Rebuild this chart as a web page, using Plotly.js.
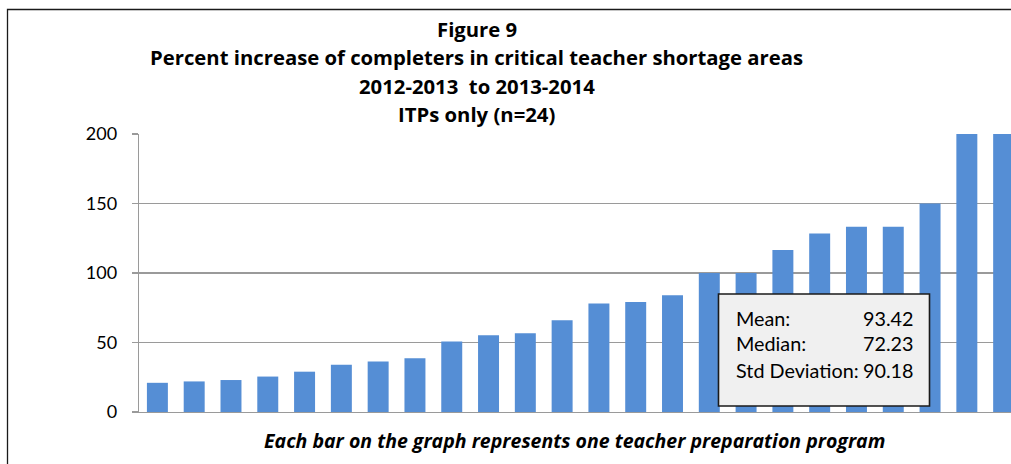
<!DOCTYPE html>
<html>
<head>
<meta charset="utf-8">
<script src="https://cdn.plot.ly/plotly-3.0.1.min.js"></script>
<style>html,body{margin:0;padding:0;background:#fff;}#chart{width:1011px;height:464px;}</style>
</head>
<body>
<div id="chart"></div>
<script>
// ---- data ----
const programs = ['1','2','3','4','5','6','7','8','9','10','11','12','13','14','15','16','17','18','19','20','21','22','23','24'];
const pctIncrease = [21, 22, 23, 25.5, 29, 34, 36.3, 38.7, 50.7, 55.2, 56.7, 66, 78.1, 79.2, 84, 100, 100, 116.5, 128.5, 133.3, 133.3, 150, 248, 433];
const titleLines = ['Figure 9', 'Percent increase of completers in critical teacher shortage areas', '2012-2013  to 2013-2014', 'ITPs only (n=24)'];
const statLabels = ['Mean:', 'Median:', 'Std Deviation:'];
const statValues = ['93.42', '72.23', '90.18'];
const yTicks = [0, 50, 100, 150, 200];
const caption = 'Each bar on the graph represents one teacher preparation program';

// ---- layout helpers (pixel -> paper) ----
const L = 139, R = 1011, T = 134, B = 412;
const px = x => (x - L) / (R - L);
const py = y => (B - y) / (B - T);

const annotations = [];
const titleY = [29, 57, 85.5, 114];
titleLines.forEach((t, i) => annotations.push({
  xref: 'paper', yref: 'paper', x: px(476.5), y: py(titleY[i]), xanchor: 'center', yanchor: 'middle',
  text: '<b>' + t + '</b>', showarrow: false, font: {family: 'Open Sans', size: 20.3, color: '#000'}
}));
const statY = [318, 343, 370];
statLabels.forEach((t, i) => {
  annotations.push({xref: 'paper', yref: 'paper', x: px(734), y: py(statY[i]), xanchor: 'left', yanchor: 'middle',
    text: t, showarrow: false, font: {family: 'Lato', size: 19.8, color: '#000'}});
  annotations.push({xref: 'paper', yref: 'paper', x: px(916), y: py(statY[i]), xanchor: 'right', yanchor: 'middle',
    text: statValues[i], showarrow: false, font: {family: 'Lato', size: 19.8, color: '#000'}});
});
annotations.push({xref: 'paper', yref: 'paper', x: px(574.5), y: py(440), xanchor: 'center', yanchor: 'middle',
  text: '<b><i>' + caption + '</i></b>', showarrow: false, font: {family: 'Open Sans', size: 19.5, color: '#000'}});

const shapes = [
  {type: 'rect', xref: 'paper', yref: 'paper', x0: px(7.5), x1: px(1030), y0: py(480), y1: py(9.5),
   line: {color: '#1a1a1a', width: 1.3}, fillcolor: 'rgba(0,0,0,0)', layer: 'above'},
  {type: 'rect', xref: 'paper', yref: 'paper', x0: px(718.5), x1: px(929.5), y0: py(406), y1: py(294),
   line: {color: '#1a1a1a', width: 1.6}, fillcolor: '#f0f0f0', layer: 'above'}
];

const data = [{
  type: 'bar', x: programs, y: pctIncrease,
  marker: {color: '#558ED5', line: {width: 0}},
  hoverinfo: 'skip'
}];

const layout = {
  width: 1011, height: 464,
  margin: {l: L, r: 1011 - R, t: T, b: 464 - B, pad: 0},
  paper_bgcolor: '#fff', plot_bgcolor: '#fff',
  showlegend: false,
  bargap: 0.43,
  xaxis: {type: 'category', range: [-0.5, 23.2], showticklabels: false, ticks: '', showgrid: false,
          showline: true, linecolor: '#9a9a9a', linewidth: 1.3, zeroline: false, fixedrange: true},
  yaxis: {range: [0, 200], tickvals: yTicks, ticktext: yTicks.map(String), ticks: 'outside', ticklen: 6,
          tickcolor: '#9a9a9a', tickwidth: 1.3, showgrid: true, gridcolor: '#9a9a9a', gridwidth: 1.3,
          showline: true, linecolor: '#9a9a9a', linewidth: 1.3, zeroline: false, ticklabelstandoff: 11,
          tickfont: {family: 'Lato', size: 18, color: '#000'}, fixedrange: true},
  annotations: annotations,
  shapes: shapes
};

Plotly.newPlot('chart', data, layout, {displayModeBar: false, staticPlot: true});
</script>
</body>
</html>
